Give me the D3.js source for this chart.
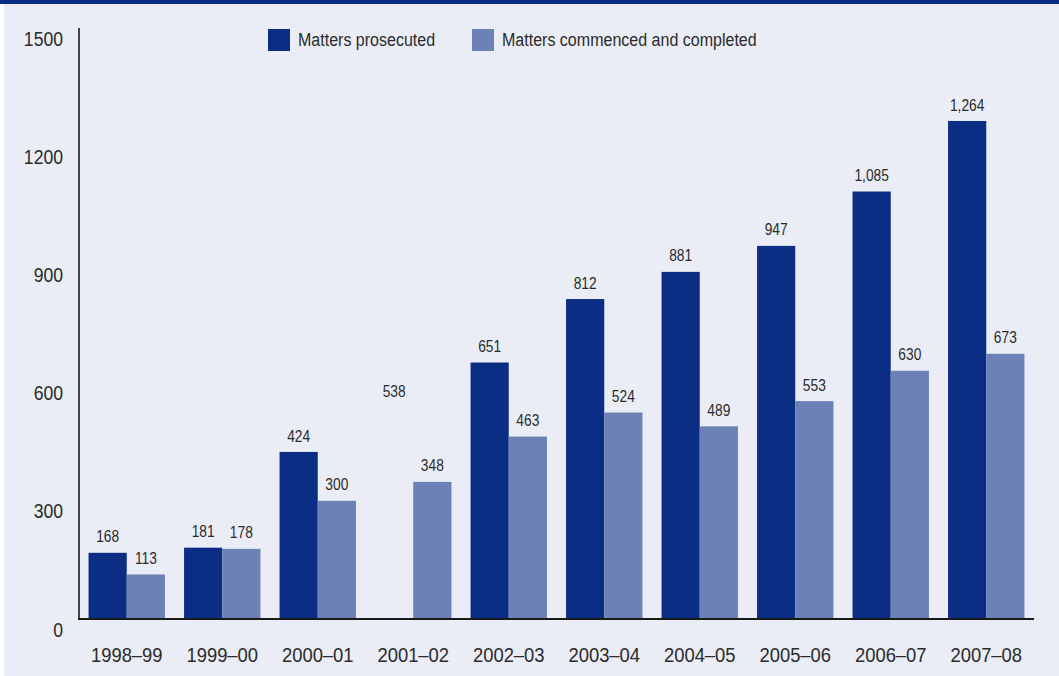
<!DOCTYPE html>
<html>
<head>
<meta charset="utf-8">
<script src="https://cdn.jsdelivr.net/npm/d3@7"></script>
<style>
  html, body { margin: 0; padding: 0; background: #ffffff; }
  svg { display: block; }
  text { font-family: "Liberation Sans", Arial, sans-serif; fill: #2b2b2b; }
</style>
</head>
<body>
<svg id="chart" width="1059" height="676"></svg>
<script>
// Financial years
const years = ["1998–99", "1999–00", "2000–01", "2001–02", "2002–03",
               "2003–04", "2004–05", "2005–06", "2006–07", "2007–08"];
// Series values
const prosecuted = [168, 181, 424, 538, 651, 812, 881, 947, 1085, 1264];
const completed  = [113, 178, 300, 348, 463, 524, 489, 553, 630, 673];
// Years where the prosecuted bar is not drawn (value label only)
const prosecutedBarHidden = ["2001–02"];
const seriesNames = ["Matters prosecuted", "Matters commenced and completed"];
const yTicks = [0, 300, 600, 900, 1200, 1500];

const colors = { "Matters prosecuted": "#0b2d84", "Matters commenced and completed": "#6c82b6" };

const svg = d3.select("#chart");
const W = 1059, H = 676;

// Condense text horizontally to a narrow face
function condense(sel, ratio) {
  sel.each(function () {
    const len = this.getComputedTextLength();
    d3.select(this).attr("textLength", (len * ratio).toFixed(2)).attr("lengthAdjust", "spacingAndGlyphs");
  });
}

// Panel background and top rule
svg.append("rect").attr("x", 4).attr("y", 0).attr("width", W - 4).attr("height", H).attr("fill", "#eaedf5");
svg.append("rect").attr("x", 0).attr("y", 0).attr("width", W).attr("height", 4).attr("fill", "#0b2d84");

const plot = { left: 79, right: 1034, top: 28, bottom: 619 };

const x = d3.scaleBand().domain(years).range([plot.left, plot.right])
  .paddingInner(0.2).paddingOuter(0.1);
const xs = d3.scaleBand().domain(seriesNames).range([0, x.bandwidth()]).padding(0);
const y = d3.scaleLinear().domain([0, 1500]).range([plot.bottom, plot.top]);

const rows = years.map((yr, i) => ({
  year: yr,
  values: [
    { series: seriesNames[0], value: prosecuted[i], hidden: prosecutedBarHidden.includes(yr) },
    { series: seriesNames[1], value: completed[i], hidden: false }
  ]
}));

const fmt = d3.format(",");

const groups = svg.append("g").selectAll("g").data(rows).join("g")
  .attr("transform", d => `translate(${x(d.year)},0)`);

groups.selectAll("rect").data(d => d.values.filter(v => !v.hidden)).join("rect")
  .attr("x", d => xs(d.series))
  .attr("y", d => y(d.value))
  .attr("width", xs.bandwidth())
  .attr("height", d => y(0) - y(d.value))
  .attr("fill", d => colors[d.series]);

groups.selectAll("text").data(d => d.values).join("text")
  .attr("x", d => xs(d.series) + xs.bandwidth() / 2)
  .attr("y", d => y(d.value) - 16)
  .attr("dy", "0.35em")
  .attr("text-anchor", "middle")
  .style("font-size", "16px")
  .text(d => fmt(d.value))
  .call(condense, 0.86);

// Y axis: line plus labels, no tick marks
const yAxis = d3.axisLeft(y).tickValues(yTicks).tickSize(0).tickPadding(16).tickFormat(d3.format("d"));
const yg = svg.append("g").attr("transform", `translate(${plot.left},0)`).call(yAxis);
yg.select(".domain").remove();
yg.selectAll("text").style("font-size", "20px").attr("dy", "0.85em")
  .attr("fill", "#2b2b2b").style("font-family", null).call(condense, 0.88);
svg.append("line").attr("x1", plot.left).attr("x2", plot.left)
  .attr("y1", plot.top).attr("y2", plot.bottom + 1)
  .attr("stroke", "#1a1a1a").attr("stroke-width", 1.6);

// X axis
const xAxis = d3.axisBottom(x).tickSize(0).tickPadding(29);
const xg = svg.append("g").attr("transform", `translate(0,${plot.bottom})`).call(xAxis);
xg.select(".domain").remove();
xg.selectAll("text").style("font-size", "20px").attr("fill", "#2b2b2b")
  .style("font-family", null).call(condense, 0.92);
svg.append("line").attr("x1", plot.left - 0.8).attr("x2", plot.right)
  .attr("y1", plot.bottom).attr("y2", plot.bottom)
  .attr("stroke", "#1a1a1a").attr("stroke-width", 1.8);

// Legend
const legendX = [268, 472];
const legend = svg.append("g").selectAll("g").data(seriesNames).join("g")
  .attr("transform", (d, i) => `translate(${legendX[i]},29)`);
legend.append("rect").attr("width", 22).attr("height", 22).attr("fill", d => colors[d]);
legend.append("text").attr("x", 30).attr("y", 11).attr("dy", "0.35em")
  .style("font-size", "18px").text(d => d).call(condense, 0.89);
</script>
</body>
</html>
